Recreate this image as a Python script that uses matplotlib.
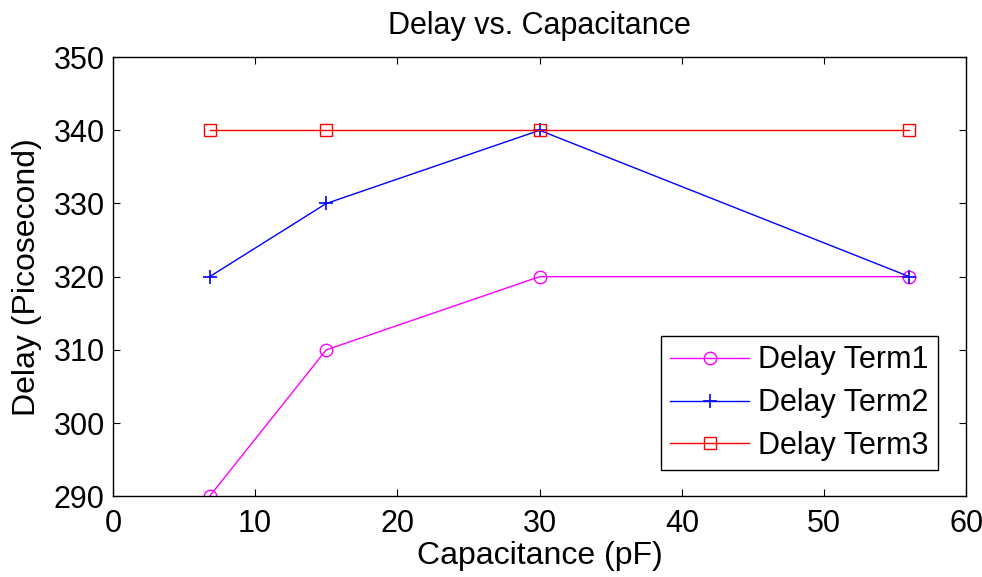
import matplotlib
matplotlib.use('Agg')
import matplotlib.pyplot as plt

plt.rcParams['font.family'] = ['Liberation Sans', 'DejaVu Sans']

cap = [6.8, 15, 30, 56]
term1 = [290, 310, 320, 320]
term2 = [320, 330, 340, 320]
term3 = [340, 340, 340, 340]

fig = plt.figure(figsize=(9.82, 5.77), dpi=100)
ax = fig.add_axes([0.115, 0.140, 0.869, 0.761])

ax.plot(cap, term1, color='#ff00ff', marker='o', markersize=9, markerfacecolor='none',
        linewidth=1, label='Delay Term1')
ax.plot(cap, term2, color='#0000ff', marker='+', markersize=10, markeredgewidth=1.2,
        linewidth=1, label='Delay Term2')
ax.plot(cap, term3, color='#ff0000', marker='s', markersize=8, markerfacecolor='none',
        linewidth=1, label='Delay Term3')

ax.set_xlim(0, 60)
ax.set_ylim(290, 350)
ax.set_xticks(range(0, 61, 10))
ax.set_yticks(range(290, 351, 10))
ax.tick_params(direction='in', top=True, right=True, labelsize=22, length=5)
ax.tick_params(axis='x', pad=9)
ax.tick_params(axis='y', pad=6)
for s in ax.spines.values():
    s.set_linewidth(1)

ax.set_title('Delay vs. Capacitance', fontsize=22, pad=17)
ax.set_xlabel('Capacitance (pF)', fontsize=23, labelpad=2)
ax.set_ylabel('Delay (Picosecond)', fontsize=23, labelpad=8)

leg = ax.legend(loc='lower right', bbox_to_anchor=(0.967, 0.059), fontsize=22,
                frameon=True, fancybox=False, edgecolor='black', framealpha=1,
                handlelength=2.6, borderpad=0.3, labelspacing=0.42, handletextpad=0.3,
                borderaxespad=0)
leg.get_frame().set_linewidth(1)

fig.savefig('out.png', dpi=100)
